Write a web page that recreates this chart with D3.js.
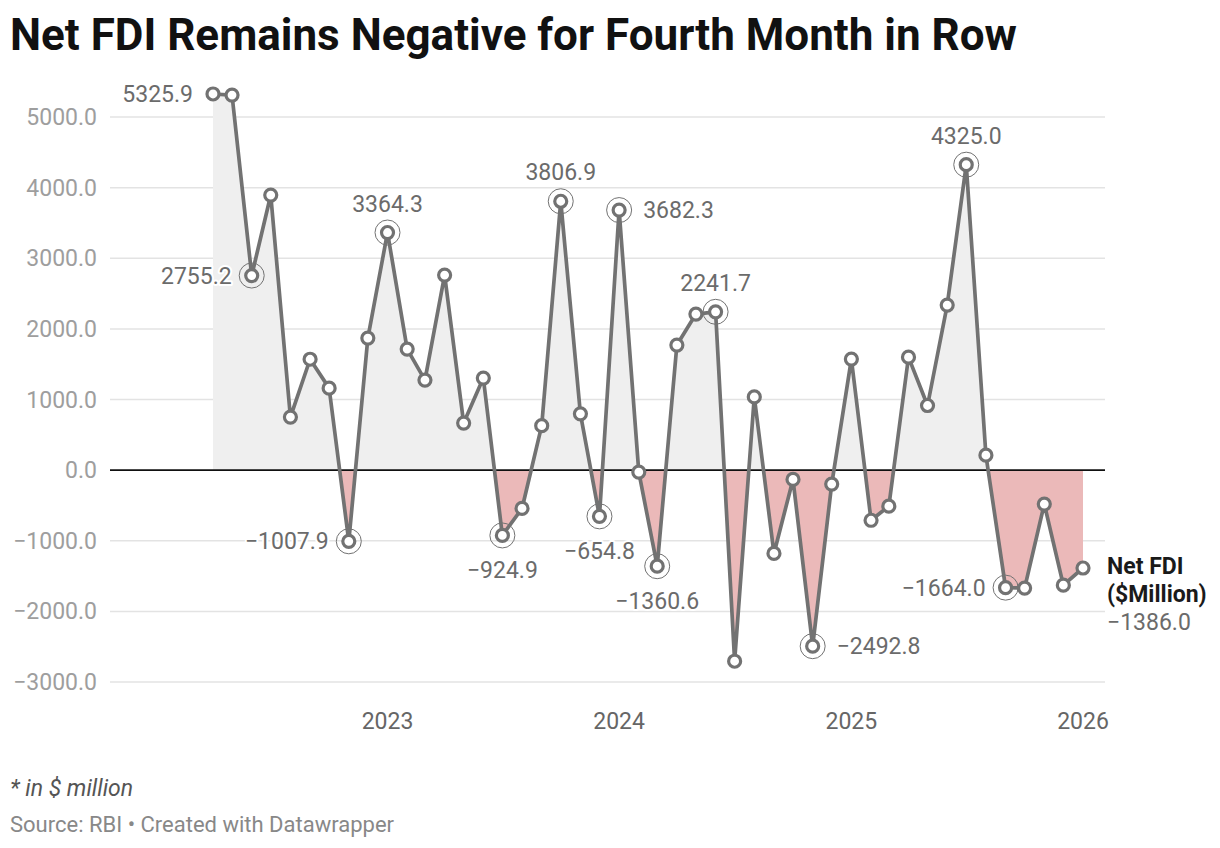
<!DOCTYPE html>
<html>
<head>
<meta charset="utf-8">
<script src="https://cdn.jsdelivr.net/npm/d3@7/dist/d3.min.js"></script>
<style>
  html, body { margin: 0; padding: 0; background: #fff; }
  svg { display: block; font-family: Roboto, "Noto Sans", sans-serif; }
</style>
</head>
<body>
<svg id="chart" width="1220" height="848"></svg>
<script>
// ---- Data ----
const months = [
  "2022-04","2022-05","2022-06","2022-07","2022-08","2022-09","2022-10","2022-11","2022-12",
  "2023-01","2023-02","2023-03","2023-04","2023-05","2023-06","2023-07","2023-08","2023-09","2023-10","2023-11","2023-12",
  "2024-01","2024-02","2024-03","2024-04","2024-05","2024-06","2024-07","2024-08","2024-09","2024-10","2024-11","2024-12",
  "2025-01","2025-02","2025-03","2025-04","2025-05","2025-06","2025-07","2025-08","2025-09","2025-10","2025-11","2025-12",
  "2026-01"
];
const netFDI = [
  5325.9, 5310, 2755.2, 3895, 751, 1570, 1161, -1007.9, 1870,
  3364.3, 1714, 1275, 2762, 666, 1303, -924.9, -543, 630, 3806.9, 797, -654.8,
  3682.3, -28, -1360.6, 1771, 2210, 2241.7, -2706, 1037, -1180, -132, -2492.8, -198,
  1572, -710, -510, 1600, 915, 2337, 4325.0, 212, -1664.0, -1670, -480, -1629,
  -1386.0
];
const yTicks = [5000, 4000, 3000, 2000, 1000, 0, -1000, -2000, -3000];
const xTickYears = ["2023", "2024", "2025", "2026"];
// highlighted points and where their labels sit
const highlightMonths = ["2022-04","2022-06","2023-01","2023-10","2024-01","2024-06","2025-07",
                         "2022-11","2023-07","2023-12","2024-03","2024-11","2025-09"];
const highlightPlace  = ["left","left","above","above","right","above","above",
                         "left","below","below","below","right","left"];
const ringMonths = ["2022-06","2023-01","2023-10","2024-01","2024-06","2025-07",
                    "2022-11","2023-07","2023-12","2024-03","2024-11","2025-09"];
const title = "Net FDI Remains Negative for Fourth Month in Row";
const seriesName = ["Net FDI", "($Million)"];
const note = "* in $ million";
const source = "Source: RBI \u2022 Created with Datawrapper";

// ---- Setup ----
const parse = d3.timeParse("%Y-%m");
const data = months.map((m, i) => ({ m, date: parse(m), v: netFDI[i] }));
const fmt = v => d3.format(".1f")(v).replace("-", "\u2212");

const svg = d3.select("#chart");
const x = d3.scaleTime().domain([parse("2022-04"), parse("2026-01")]).range([213, 1083]);
const y = d3.scaleLinear().domain([-3000, 5000]).range([682, 117]);
const gridX0 = 110, gridX1 = 1105;

const lineColor = "#727272";
const labelColor = "#6b6b6b";
const fs = 23;

// Title
svg.append("text").attr("x", 10).attr("y", 50)
  .attr("font-size", 44).attr("font-weight", 700).attr("fill", "#111")
  .text(title);

// Gridlines & y labels
const gy = svg.append("g");
yTicks.forEach(t => {
  if (t !== 0) {
    gy.append("line").attr("x1", gridX0).attr("x2", gridX1)
      .attr("y1", y(t)).attr("y2", y(t))
      .attr("stroke", "#e3e3e3").attr("stroke-width", 1.5);
  }
  gy.append("text").attr("x", 97).attr("y", y(t)).attr("dy", "0.35em")
    .attr("text-anchor", "end").attr("font-size", fs).attr("fill", "#9e9e9e")
    .text(fmt(t));
});

// Areas
const defs = svg.append("defs");
defs.append("clipPath").attr("id", "clipPos").append("rect")
  .attr("x", 0).attr("y", 0).attr("width", 1220).attr("height", y(0));
defs.append("clipPath").attr("id", "clipNeg").append("rect")
  .attr("x", 0).attr("y", y(0)).attr("width", 1220).attr("height", 848 - y(0));
const area = d3.area().x(d => x(d.date)).y0(y(0)).y1(d => y(d.v));
svg.append("path").datum(data).attr("d", area).attr("fill", "#efefef").attr("clip-path", "url(#clipPos)");
svg.append("path").datum(data).attr("d", area).attr("fill", "#ebb9b9").attr("clip-path", "url(#clipNeg)");

// Zero line
svg.append("line").attr("x1", gridX0).attr("x2", gridX1)
  .attr("y1", y(0)).attr("y2", y(0)).attr("stroke", "#111").attr("stroke-width", 1.6);

// X axis labels
xTickYears.forEach(yr => {
  svg.append("text").attr("x", x(parse(yr + "-01"))).attr("y", 729)
    .attr("text-anchor", "middle").attr("font-size", fs).attr("fill", "#666")
    .text(yr);
});

// Line
const line = d3.line().x(d => x(d.date)).y(d => y(d.v));
svg.append("path").datum(data).attr("d", line).attr("fill", "none")
  .attr("stroke", lineColor).attr("stroke-width", 3.7).attr("stroke-linejoin", "round");

// Rings
svg.append("g").selectAll("circle").data(data.filter(d => ringMonths.includes(d.m)))
  .join("circle").attr("cx", d => x(d.date)).attr("cy", d => y(d.v)).attr("r", 12.5)
  .attr("fill", "none").attr("stroke", lineColor).attr("stroke-width", 1);

// Points
svg.append("g").selectAll("circle").data(data).join("circle")
  .attr("cx", d => x(d.date)).attr("cy", d => y(d.v)).attr("r", 6)
  .attr("fill", "#fff").attr("stroke", lineColor).attr("stroke-width", 3.2);

// Labels
const lg = svg.append("g");
highlightMonths.forEach((m, i) => {
  const d = data.find(e => e.m === m);
  const px = x(d.date), py = y(d.v), place = highlightPlace[i];
  let tx = px, ty = py, anchor = "middle";
  if (place === "left") { tx = px - 20; anchor = "end"; }
  if (place === "right") { tx = px + 24; anchor = "start"; }
  if (place === "above") { ty = py - 29; }
  if (place === "below") { ty = py + 35; }
  lg.append("text").attr("x", tx).attr("y", ty).attr("dy", "0.35em")
    .attr("text-anchor", anchor).attr("font-size", fs).attr("fill", labelColor)
    .attr("stroke", "#fff").attr("stroke-width", 4).attr("paint-order", "stroke")
    .attr("stroke-linejoin", "round")
    .text(fmt(d.v));
});

// Series label at end
const last = data[data.length - 1];
const lx = x(last.date) + 24;
svg.append("text").attr("x", lx).attr("y", y(last.v) - 2).attr("dy", "0.35em")
  .attr("font-size", fs).attr("font-weight", 700).attr("fill", "#1a1a1a").text(seriesName[0]);
svg.append("text").attr("x", lx).attr("y", y(last.v) + 26).attr("dy", "0.35em")
  .attr("font-size", fs).attr("font-weight", 700).attr("fill", "#1a1a1a").text(seriesName[1]);
svg.append("text").attr("x", lx).attr("y", y(last.v) + 54).attr("dy", "0.35em")
  .attr("font-size", fs).attr("fill", labelColor).text(fmt(last.v));

// Footer
svg.append("text").attr("x", 10).attr("y", 796).attr("font-size", 23)
  .attr("font-style", "italic").attr("fill", "#555").text(note);
svg.append("text").attr("x", 10).attr("y", 832).attr("font-size", 22)
  .attr("fill", "#888").text(source);
</script>
</body>
</html>
